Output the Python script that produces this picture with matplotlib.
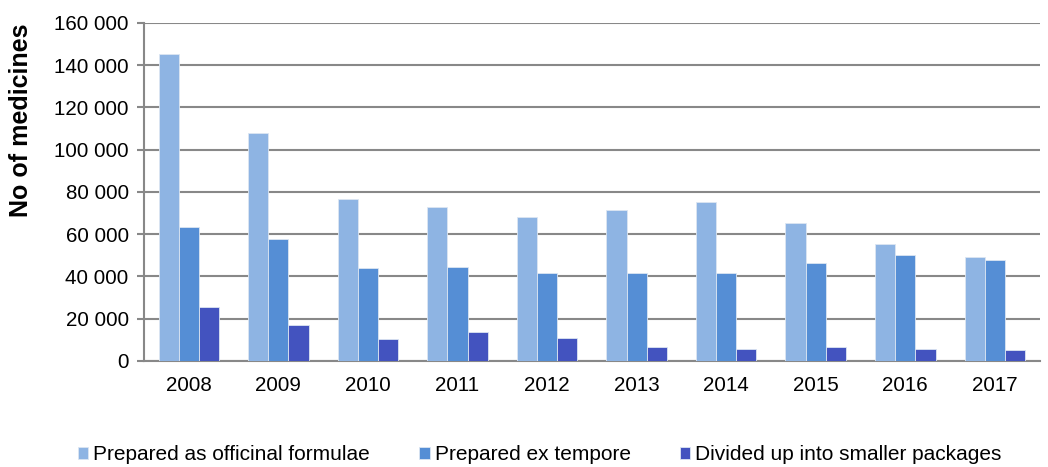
import matplotlib.pyplot as plt
import matplotlib.ticker as mticker
import numpy as np

plt.rcParams['font.family'] = ['Liberation Sans', 'DejaVu Sans']

years = ['2008', '2009', '2010', '2011', '2012', '2013', '2014', '2015', '2016', '2017']
officinal = [145300, 107800, 76500, 73000, 68000, 71500, 75100, 65500, 55400, 49400]
ex_tempore = [63600, 57600, 43900, 44500, 41700, 41800, 41500, 46500, 50300, 48000]
divided = [25400, 16900, 10300, 13900, 10700, 6500, 5800, 6500, 5500, 5000]

labels = ['Prepared as officinal formulae', 'Prepared ex tempore', 'Divided up into smaller packages']
colors = ['#8EB4E3', '#558ED5', '#4353BF']


def main():
    fig = plt.figure(figsize=(10.48, 4.67), dpi=100)
    ax = fig.add_axes([0.1374, 0.227, 0.8546, 0.724])

    x = np.arange(len(years))
    w = 0.225
    for i, (vals, lab, col) in enumerate(zip([officinal, ex_tempore, divided], labels, colors)):
        ax.bar(x + (i - 1) * w, vals, w, color=col, edgecolor='#DCE6F2', linewidth=0.6,
               label=lab, zorder=3)

    ax.set_xlim(-0.5, len(years) - 0.5)
    ax.set_ylim(0, 160000)
    ax.set_yticks(range(0, 160001, 20000))
    ax.yaxis.set_major_formatter(mticker.FuncFormatter(lambda v, p: f'{int(v):,}'.replace(',', ' ')))
    ax.set_xticks(x)
    ax.set_xticklabels(years)
    ax.tick_params(axis='y', length=5, color='#888888', labelsize=14.8, labelcolor='black', width=1.5, pad=6)
    ax.tick_params(axis='x', length=0, labelsize=14.8, pad=11)
    ax.grid(axis='y', color='#888888', linewidth=1.5, zorder=0)
    for s in ['top', 'right']:
        ax.spines[s].set_visible(False)
    for s in ['left', 'bottom']:
        ax.spines[s].set_color('#888888')
        ax.spines[s].set_linewidth(1.5)
    ax.set_ylabel('No of medicines', fontsize=18, fontweight='bold')
    ax.yaxis.set_label_coords(-0.124, 0.713)

    fig.legend(loc='center', bbox_to_anchor=(0.515, 0.026), ncol=3, frameon=False,
               fontsize=15, handlelength=0.5, handleheight=0.55, handletextpad=0.25,
               columnspacing=2.35, borderpad=0)
    fig.savefig('out.png', dpi=100)


if __name__ == '__main__':
    main()
